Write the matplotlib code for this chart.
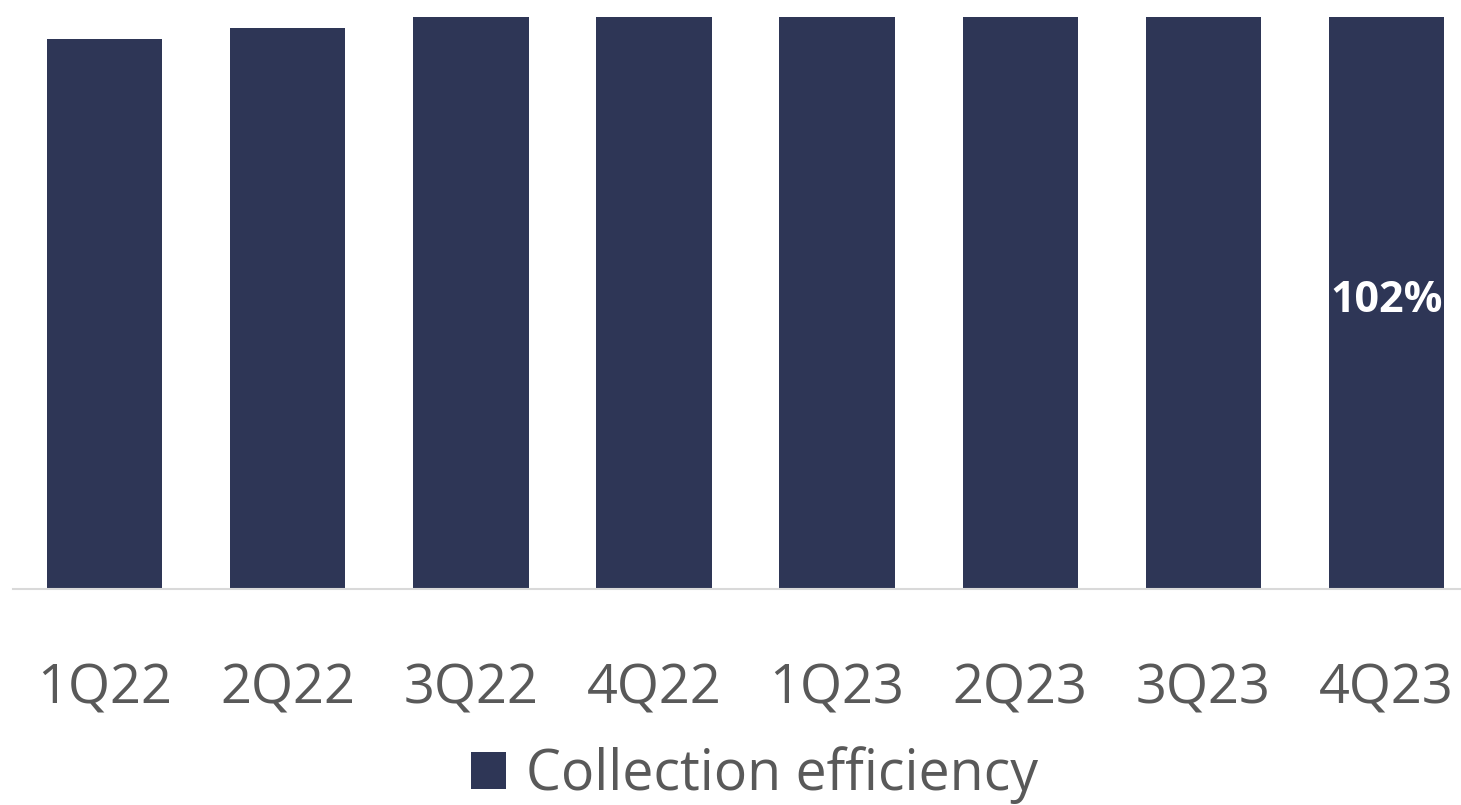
import matplotlib
matplotlib.use("Agg")
import matplotlib.pyplot as plt
from matplotlib.patches import Patch

categories = ["1Q22", "2Q22", "3Q22", "4Q22", "1Q23", "2Q23", "3Q23", "4Q23"]
collection_efficiency = [98, 100, 102, 102, 102, 102, 102, 102]
series_name = "Collection efficiency"
labelled_index = 7
label_text = "102%"

BAR = "#2E3656"
GRAY = "#595959"
FONT = ["Open Sans", "DejaVu Sans"]

W, H = 1461, 805
fig = plt.figure(figsize=(W / 100, H / 100), dpi=100)
ax_left, ax_right = 13, 1461
base_y, top_y = 589, 17
ax = fig.add_axes([ax_left / W, (H - base_y) / H, (ax_right - ax_left) / W, (base_y - top_y) / H])

x = list(range(len(categories)))
ax.bar(x, collection_efficiency, width=0.63, color=BAR, zorder=2)
slot = 183.14
ax.set_xlim(-0.5, -0.5 + (ax_right - ax_left) / slot)
ax.set_ylim(0, 102)

for s in ["top", "right", "left"]:
    ax.spines[s].set_visible(False)
ax.spines["bottom"].set_color("#D9D9D9")
ax.spines["bottom"].set_linewidth(1.5)
ax.set_yticks([])
ax.set_xticks(x)
ax.set_xticklabels(categories, fontsize=39, color=GRAY, family=FONT)
ax.tick_params(axis="x", length=0, pad=52)

ax.text(x[labelled_index], collection_efficiency[labelled_index] / 2 + 0.5, label_text,
        ha="center", va="center", color="white", fontsize=31, fontweight="bold", family=FONT)

handle = Patch(facecolor=BAR, edgecolor="none")
leg = fig.legend([handle], [series_name], loc="center", bbox_to_anchor=(754 / W, 1 - 775 / H),
                 frameon=False, prop={"family": FONT, "size": 40}, handlelength=0.63,
                 handleheight=0.63, handletextpad=0.36)
for t in leg.get_texts():
    t.set_color(GRAY)

fig.savefig("out.png", dpi=100)
